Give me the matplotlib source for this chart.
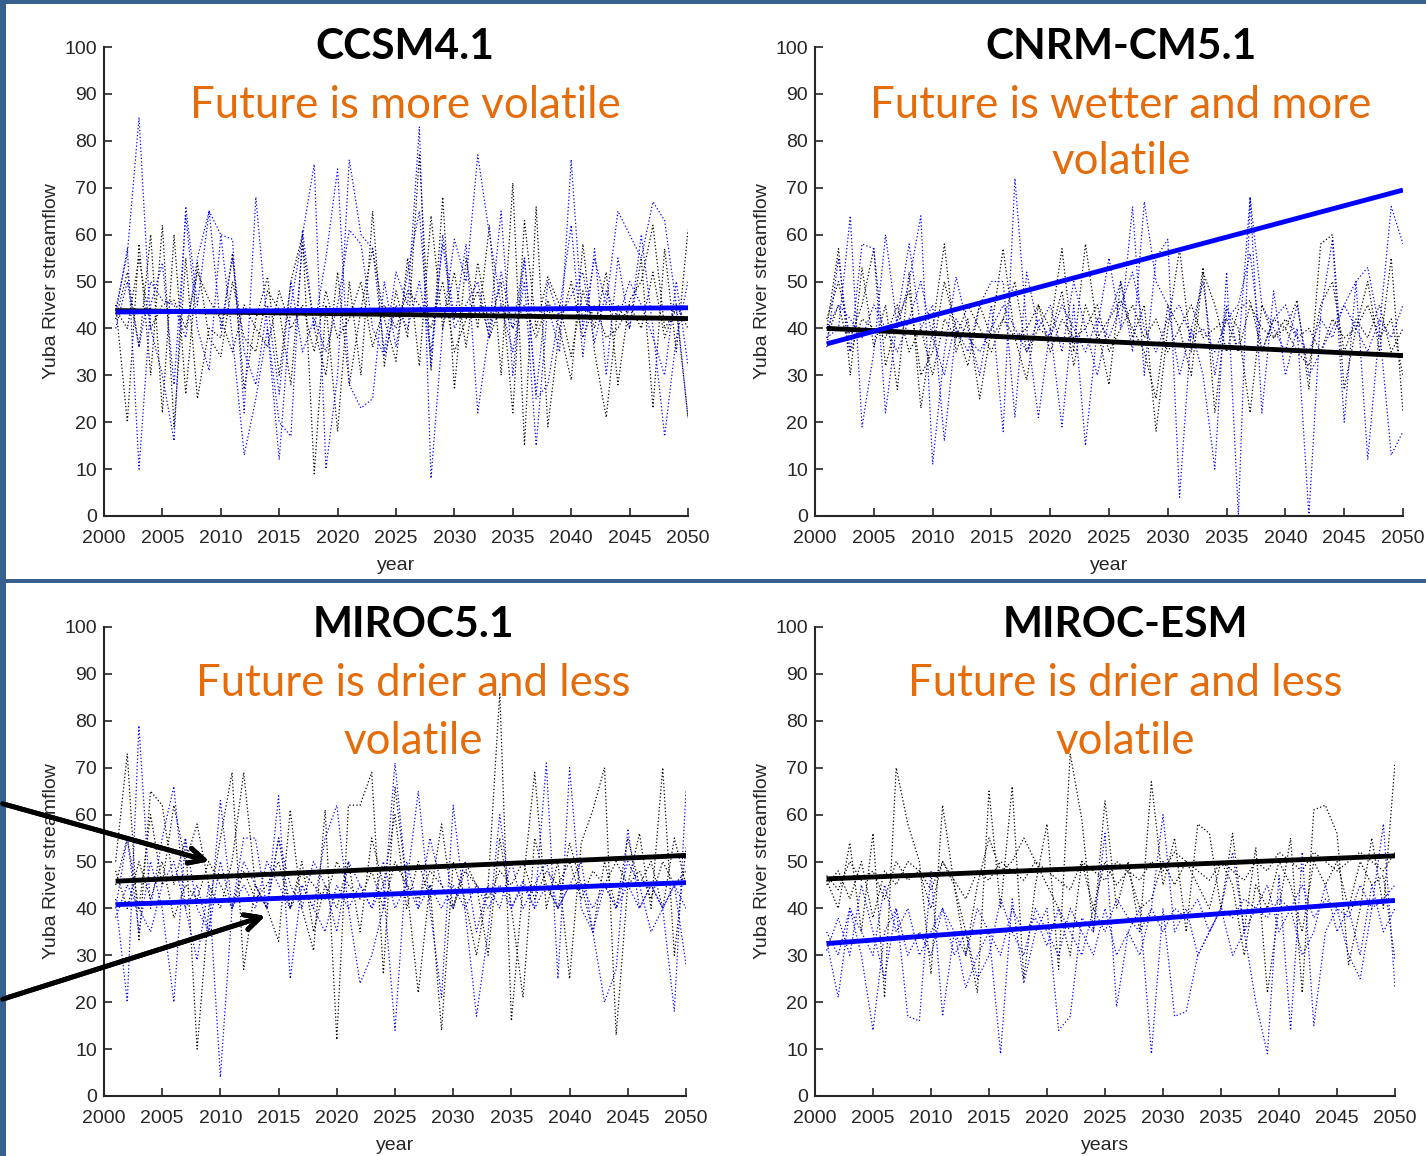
import matplotlib.pyplot as plt

years = list(range(2001, 2051))

# --- CCSM4.1 ---
ccsm_hist = [
    [45, 20, 58, 30, 62, 19, 55, 25, 40, 38, 56, 27, 42, 51, 30, 50, 60, 9, 45, 18,
     50, 30, 65, 32, 48, 38, 77, 31, 68, 27, 55, 40, 62, 30, 71, 15, 66, 19, 40, 29,
     58, 35, 21, 45, 40, 55, 23, 57, 35, 61],
    [42, 52, 36, 60, 22, 60, 26, 54, 38, 34, 50, 38, 35, 48, 44, 28, 58, 40, 30, 52,
     28, 44, 57, 42, 33, 55, 32, 64, 40, 52, 36, 54, 40, 50, 22, 63, 40, 51, 45, 34,
     48, 40, 52, 28, 46, 50, 62, 40, 44, 21],
    [44, 40, 55, 40, 45, 46, 40, 52, 46, 42, 35, 45, 40, 36, 48, 40, 45, 35, 48, 38,
     42, 50, 36, 45, 40, 48, 45, 40, 50, 35, 42, 48, 38, 45, 40, 45, 38, 46, 40, 50,
     38, 45, 38, 40, 45, 40, 52, 38, 45, 40],
]
ccsm_fut = [
    [44, 56, 85, 40, 30, 16, 66, 45, 65, 60, 38, 13, 25, 40, 12, 45, 60, 75, 10, 30,
     76, 60, 57, 35, 52, 45, 83, 8, 40, 59, 50, 77, 60, 45, 35, 50, 15, 45, 35, 76,
     40, 55, 45, 65, 60, 55, 67, 63, 45, 21],
    [43, 57, 10, 45, 54, 28, 64, 40, 31, 60, 59, 22, 68, 40, 20, 17, 61, 40, 55, 74,
     28, 23, 25, 50, 36, 52, 65, 32, 60, 42, 58, 22, 40, 65, 30, 55, 25, 28, 44, 62,
     34, 57, 30, 55, 40, 60, 40, 17, 38, 50],
    [40, 50, 36, 50, 46, 45, 38, 55, 65, 40, 55, 35, 28, 45, 26, 50, 35, 42, 35, 45,
     61, 58, 40, 34, 45, 40, 50, 35, 58, 40, 45, 50, 38, 52, 40, 55, 26, 50, 42, 47,
     52, 37, 48, 42, 50, 45, 38, 30, 50, 32],
]
ccsm_trend_hist = [43.8, 42.1]
ccsm_trend_fut = [43.5, 44.4]

# --- CNRM-CM5.1 ---
cnrm_hist = [
    [40, 57, 30, 53, 36, 45, 27, 52, 23, 40, 58, 35, 42, 25, 40, 57, 38, 29, 45, 40,
     57, 35, 58, 40, 28, 50, 38, 45, 18, 40, 57, 35, 53, 22, 44, 40, 22, 45, 38, 40,
     46, 27, 58, 60, 27, 40, 50, 35, 55, 22],
    [42, 50, 38, 45, 57, 32, 42, 48, 30, 35, 50, 40, 32, 45, 38, 42, 50, 35, 40, 38,
     48, 32, 45, 38, 42, 46, 40, 35, 25, 45, 40, 30, 52, 45, 35, 44, 46, 35, 42, 40,
     35, 32, 45, 50, 35, 42, 38, 45, 35, 40],
    [38, 45, 35, 42, 40, 38, 45, 35, 40, 30, 42, 38, 45, 40, 35, 42, 38, 40, 45, 35,
     42, 38, 40, 45, 35, 40, 45, 38, 42, 35, 40, 45, 38, 40, 42, 35, 45, 40, 38, 42,
     38, 40, 35, 42, 38, 40, 45, 38, 42, 30],
]
cnrm_fut = [
    [38, 40, 64, 19, 35, 60, 40, 50, 64, 11, 35, 51, 40, 30, 45, 18, 72, 40, 21, 40,
     19, 45, 15, 40, 55, 40, 66, 30, 55, 59, 4, 40, 30, 10, 52, 0, 68, 22, 48, 30,
     40, 0, 43, 59, 20, 50, 12, 40, 66, 58],
    [36, 55, 35, 58, 57, 22, 42, 58, 40, 45, 16, 40, 35, 45, 50, 50, 21, 52, 40, 45,
     35, 50, 40, 30, 42, 50, 35, 67, 50, 45, 30, 40, 50, 30, 45, 35, 68, 45, 40, 35,
     45, 30, 35, 40, 45, 50, 53, 40, 13, 18],
    [40, 45, 42, 38, 45, 40, 35, 42, 50, 38, 30, 42, 38, 35, 40, 45, 40, 35, 42, 38,
     45, 40, 35, 42, 38, 45, 52, 40, 35, 42, 45, 38, 40, 35, 42, 45, 56, 35, 42, 45,
     38, 35, 42, 38, 45, 40, 35, 42, 38, 45],
]
cnrm_trend_hist = [40.0, 34.2]
cnrm_trend_fut = [36.7, 69.5]

# --- MIROC5.1 ---
miroc5_hist = [
    [50, 73, 33, 65, 62, 45, 55, 10, 40, 55, 69, 27, 45, 40, 33, 61, 40, 31, 61, 12,
     62, 62, 69, 26, 66, 45, 22, 45, 14, 50, 42, 30, 45, 86, 16, 45, 69, 40, 50, 25,
     54, 61, 70, 13, 45, 56, 40, 70, 30, 53],
    [45, 55, 40, 60, 45, 62, 50, 58, 45, 40, 50, 69, 45, 40, 55, 40, 50, 35, 45, 40,
     50, 35, 55, 45, 60, 40, 50, 42, 58, 40, 48, 45, 30, 55, 40, 21, 55, 45, 40, 54,
     45, 35, 50, 40, 55, 45, 50, 40, 55, 45],
    [48, 40, 50, 42, 50, 38, 45, 42, 50, 45, 40, 48, 42, 45, 50, 40, 48, 45, 42, 50,
     45, 42, 48, 40, 50, 45, 42, 48, 45, 40, 50, 45, 42, 48, 45, 50, 42, 48, 45, 50,
     42, 48, 45, 50, 45, 48, 42, 50, 45, 48],
]
miroc5_fut = [
    [42, 20, 79, 40, 55, 66, 40, 29, 45, 4, 40, 55, 55, 40, 64, 25, 45, 40, 55, 62,
     40, 24, 30, 40, 71, 45, 65, 40, 21, 62, 40, 17, 35, 60, 40, 46, 40, 71, 25, 70,
     40, 35, 20, 27, 57, 40, 45, 40, 18, 65],
    [40, 55, 35, 50, 40, 20, 55, 40, 35, 63, 40, 50, 45, 40, 55, 45, 40, 50, 45, 35,
     50, 45, 40, 45, 14, 50, 40, 55, 45, 40, 50, 35, 45, 40, 50, 40, 45, 50, 40, 45,
     50, 35, 45, 40, 50, 45, 35, 40, 45, 28],
    [38, 45, 40, 35, 45, 50, 40, 45, 35, 50, 40, 45, 40, 50, 45, 40, 45, 40, 35, 45,
     40, 45, 40, 50, 40, 45, 40, 45, 40, 45, 40, 45, 40, 45, 40, 45, 40, 45, 40, 45,
     45, 40, 45, 40, 45, 40, 45, 40, 45, 40],
]
miroc5_trend_hist = [45.8, 51.3]
miroc5_trend_fut = [40.8, 45.5]

# --- MIROC-ESM ---
mesm_hist = [
    [46, 40, 54, 35, 56, 21, 70, 58, 50, 26, 62, 45, 35, 22, 65, 40, 66, 25, 45, 58,
     27, 73, 59, 35, 63, 40, 50, 35, 67, 45, 55, 35, 58, 56, 40, 56, 35, 53, 22, 40,
     55, 22, 61, 62, 56, 28, 40, 55, 40, 71],
    [45, 48, 42, 50, 38, 48, 45, 50, 48, 40, 50, 45, 30, 45, 55, 48, 50, 55, 50, 45,
     40, 30, 50, 40, 50, 45, 48, 40, 42, 50, 45, 50, 45, 40, 50, 45, 30, 45, 40, 50,
     45, 35, 50, 45, 50, 40, 50, 45, 47, 29],
    [47, 44, 50, 46, 48, 42, 50, 46, 48, 44, 50, 46, 42, 48, 46, 50, 48, 46, 50, 48,
     46, 44, 50, 48, 46, 50, 48, 46, 50, 48, 52, 50, 48, 46, 50, 48, 46, 50, 48, 52,
     50, 48, 52, 50, 48, 50, 52, 50, 48, 52],
]
mesm_fut = [
    [33, 21, 40, 30, 14, 35, 40, 17, 16, 48, 17, 35, 23, 30, 35, 9, 42, 24, 35, 40,
     14, 17, 38, 35, 56, 19, 35, 40, 9, 40, 17, 18, 30, 35, 40, 52, 35, 20, 9, 47,
     14, 52, 15, 35, 40, 30, 25, 40, 58, 23],
    [31, 38, 30, 45, 35, 25, 40, 30, 35, 30, 40, 30, 35, 25, 30, 42, 35, 30, 40, 35,
     30, 40, 35, 30, 40, 30, 35, 30, 40, 60, 35, 40, 30, 35, 40, 30, 35, 40, 45, 35,
     40, 30, 35, 45, 35, 40, 30, 45, 35, 40],
    [35, 30, 40, 35, 30, 45, 35, 40, 30, 35, 40, 35, 30, 40, 35, 30, 40, 35, 38, 32,
     40, 35, 30, 40, 35, 42, 38, 35, 40, 35, 40, 38, 42, 35, 40, 38, 42, 40, 38, 42,
     40, 45, 38, 42, 40, 38, 45, 40, 42, 45],
]
mesm_trend_hist = [46.3, 51.2]
mesm_trend_fut = [32.5, 41.7]

titles = ['CCSM4.1', 'CNRM-CM5.1', 'MIROC5.1', 'MIROC-ESM']
notes = [['Future is more volatile'],
         ['Future is wetter and more', 'volatile'],
         ['Future is drier and less', 'volatile'],
         ['Future is drier and less', 'volatile']]
xlabels = ['year', 'year', 'year', 'years']

W, H = 1426, 1156
frame_blue = '#36618F'
note_orange = '#E46C0A'
axis_gray = '#262626'

# axes boxes in pixels: left, top, width, height
boxes = [(104, 47, 584, 469), (815, 47, 588, 469),
         (104, 627, 582, 469), (815, 627, 580, 469)]
# centre x, title y, first note line y (pixels)
text_pos = [(405, 47, 105), (1121, 47, 105), (413, 625, 684), (1125, 625, 684)]
note_step = 57

panels = [
    (ccsm_hist, ccsm_fut, ccsm_trend_hist, ccsm_trend_fut),
    (cnrm_hist, cnrm_fut, cnrm_trend_hist, cnrm_trend_fut),
    (miroc5_hist, miroc5_fut, miroc5_trend_hist, miroc5_trend_fut),
    (mesm_hist, mesm_fut, mesm_trend_hist, mesm_trend_fut),
]

plt.rcParams['font.family'] = ['Liberation Sans', 'DejaVu Sans']
fig = plt.figure(figsize=(W / 100, H / 100), dpi=100)

for k, (hist, fut, th, tf) in enumerate(panels):
    l, t, w, h = boxes[k]
    ax = fig.add_axes([l / W, 1 - (t + h) / H, w / W, h / H])
    for s in hist:
        ax.plot(years, s, color='k', lw=0.9, linestyle=(0, (1, 1.8)))
    for s in fut:
        ax.plot(years, s, color='#0000FF', lw=0.9, linestyle=(0, (1, 1.8)))
    ax.plot([years[0], years[-1]], th, color='k', lw=3.5, solid_capstyle='butt')
    ax.plot([years[0], years[-1]], tf, color='#0000FF', lw=3.5, solid_capstyle='butt')

    ax.set_xlim(2000, 2050)
    ax.set_ylim(0, 100)
    ax.set_xticks(range(2000, 2051, 5))
    ax.set_yticks(range(0, 101, 10))
    for side in ['top', 'right']:
        ax.spines[side].set_visible(False)
    for side in ['left', 'bottom']:
        ax.spines[side].set_color(axis_gray)
        ax.spines[side].set_linewidth(1.5)
    ax.tick_params(direction='in', length=6, width=1.2, colors=axis_gray, labelsize=14)
    ax.tick_params(axis='x', pad=10)
    ax.tick_params(axis='y', pad=5)
    ax.set_xlabel(xlabels[k], fontsize=14, color=axis_gray, labelpad=7)
    ax.set_ylabel('Yuba River streamflow', fontsize=14, color=axis_gray, labelpad=3)

    cx, ty, ny = text_pos[k]
    fig.text(cx / W, 1 - ty / H, titles[k], ha='center', va='center',
             fontsize=30.5, fontweight='bold', family=['Lato', 'DejaVu Sans'], color='k')
    for i, line in enumerate(notes[k]):
        fig.text(cx / W, 1 - (ny + i * note_step) / H, line, ha='center', va='center',
                 fontsize=31.5, family=['Lato', 'DejaVu Sans'], color=note_orange)

# slide frame: left bar, top bar and middle divider
fig.add_artist(plt.Rectangle((0, 0), 6 / W, 1, transform=fig.transFigure,
                             color=frame_blue, lw=0))
fig.add_artist(plt.Rectangle((0, 1 - 4 / H), 1, 4 / H, transform=fig.transFigure,
                             color=frame_blue, lw=0))
fig.add_artist(plt.Rectangle((0, 1 - 583 / H), 1, 4 / H, transform=fig.transFigure,
                             color=frame_blue, lw=0))

# arrows pointing at the two trend lines
arrow_tails = [(0, 803), (0, 1000)]
arrow_heads = [(212, 862), (268, 915)]
for (x0, y0), (x1, y1) in zip(arrow_tails, arrow_heads):
    fig.add_artist(plt.annotate('', xy=(x1 / W, 1 - y1 / H), xycoords='figure fraction',
                                xytext=(x0 / W, 1 - y0 / H), textcoords='figure fraction',
                                arrowprops=dict(arrowstyle='->, head_length=1.1, head_width=0.55',
                                                color='k', lw=3.5)))

plt.savefig('out.png', dpi=100)
